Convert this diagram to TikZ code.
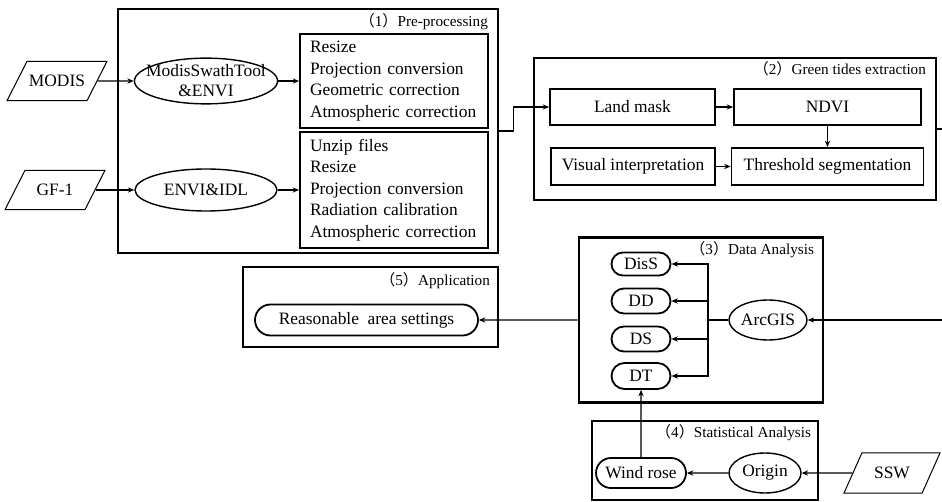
\documentclass[tikz,border=0pt]{standalone}
\usepackage{fontspec}
\setmainfont{Liberation Serif}
\newfontfamily\cjk{Noto Sans CJK SC}
\usepackage{tikz}
\usetikzlibrary{shapes}
\usetikzlibrary{positioning, arrows.meta}

\newcommand{\stagenum}[1]{{\cjk （}#1{\cjk ）}}

\tikzset{
    frame/.style={draw, rectangle, line width=1.3pt},
    title/.style={font=\fontsize{7.6}{9}\selectfont, inner sep=0pt, anchor=east},
    task/.style={draw, rectangle, line width=0.9pt},
    tool/.style={draw, ellipse, line width=0.7pt, inner sep=0pt},
    result/.style={draw, rounded rectangle, line width=0.9pt, inner sep=0pt},
    source/.style={draw, trapezium, trapezium stretches body, trapezium left angle=63, trapezium right angle=117, line width=0.5pt, inner xsep=0pt, inner ysep=6.9pt},
    link/.style={line width=0.6pt, ->}
}

\begin{document}
\begin{tikzpicture}[x=0.5pt, y=-0.5pt, >={Stealth[length=3.2pt,width=2.6pt]}, font=\fontsize{8.7}{10.8}\selectfont] % pixel grid
    \useasboundingbox (0,0) rectangle (942,502);

    % Stage frames
    \node[frame, minimum width=190pt, minimum height=122pt] (pre) at (308,131) {};
    \node[frame, minimum width=201pt, minimum height=71pt] (green) at (735,129) {};
    \node[frame, minimum width=122pt, minimum height=82.5pt] (data) at (701,320) {};
    \node[frame, minimum width=127.5pt, minimum height=40pt] (app) at (370.5,307) {};
    \node[frame, minimum width=113pt, minimum height=39.5pt] (stat) at (705,460.5) {};

    \node[title] (preTitle) at ([xshift=-5.5pt,yshift=-7pt]pre.north east) {\stagenum{1}Pre-processing};
    \node[title] (greenTitle) at ([xshift=-5.5pt,yshift=-6pt]green.north east) {\stagenum{2}Green tides extraction};
    \node[title] (dataTitle) at ([xshift=-5pt,yshift=-6.5pt]data.north east) {\stagenum{3}Data Analysis};
    \node[title] (appTitle) at ([xshift=-4.5pt,yshift=-7.5pt]app.north east) {\stagenum{5}Application};
    \node[title] (statTitle) at ([xshift=-4pt,yshift=-6.5pt]stat.north east) {\stagenum{4}Statistical Analysis};

    % (1) Pre-processing
    \node[source, minimum width=50pt] (modis) at (57,81) {MODIS};
    \node[source, minimum width=50pt] (gf) at (55,190) {GF-1};
    \node[tool, align=center, minimum width=71pt, minimum height=22pt, inner xsep=-4.6pt, inner ysep=0pt] (mst) at (206,81) {ModisSwathTool\\[-0.8pt]\&ENVI};
    \node[tool, minimum width=71pt, minimum height=21pt] (envi) at (206,190) {ENVI\&IDL};
    \node[task, align=left, text width=84pt, inner xsep=5pt, minimum height=45.5pt] (modisSteps) at (394,81)
        {Resize\\Projection conversion\\Geometric correction\\Atmospheric correction};
    \node[task, align=left, text width=84pt, inner xsep=5pt, minimum height=56pt] (gfSteps) at (394,190)
        {Unzip files\\Resize\\Projection conversion\\Radiation calibration\\Atmospheric correction};

    \draw[link] (modis) -- (mst);
    \draw[link] (mst) -- (modisSteps);
    \draw[link] (gf) -- (envi);
    \draw[link] (envi) -- (gfSteps);

    % (2) Green tides extraction
    \node[task, minimum width=82.5pt, minimum height=18pt] (land) at (632.5,107) {Land mask};
    \node[task, minimum width=93.5pt, minimum height=18pt] (ndvi) at (827.5,107) {NDVI};
    \node[task, minimum width=82pt, minimum height=18.5pt] (visual) at (633,166.5) {Visual interpretation};
    \node[task, minimum width=96pt, minimum height=18.5pt] (thresh) at (827.5,166.5) {Threshold segmentation};

    \draw[link] (pre.east) -- ++(14,0) |- (land);
    \draw[link] (land) -- (ndvi);
    \draw[link] (visual) -- (thresh);
    \draw[link] (ndvi) -- (thresh);

    \coordinate (outGreen) at (942,129);
    \draw[line width=0.6pt] (green.east) -- (outGreen);

    % (3) Data Analysis
    \node[result, minimum width=29.5pt, minimum height=11.5pt] (diss) at (641,264) {DisS};
    \node[result, minimum width=29.5pt, minimum height=12.5pt] (dd) at (641,301) {DD};
    \node[result, minimum width=29.5pt, minimum height=12.5pt] (ds) at (641,339) {DS};
    \node[result, minimum width=29.5pt, minimum height=13pt] (dt) at (641,376) {DT};
    \node[tool, minimum width=39pt, minimum height=20pt] (arcgis) at (768,320) {ArcGIS};

    \coordinate (inArc) at (942,320);
    \coordinate (bus) at (708,320);
    \draw[link] (inArc) -- (arcgis);
    \draw[line width=0.6pt] (arcgis) -- (bus);
    \draw[link] (bus) |- (diss);
    \draw[link] (bus) |- (dd);
    \draw[link] (bus) |- (ds);
    \draw[link] (bus) |- (dt);

    % (5) Application
    \node[result, minimum width=111.5pt, minimum height=15.5pt] (reason) at (366.5,320) {Reasonable\ \ area settings};
    \draw[link] (data.west) -- (reason);

    % (4) Statistical Analysis
    \node[result, minimum width=45pt, minimum height=15pt] (wind) at (641,473) {Wind rose};
    \node[tool, minimum width=36pt, minimum height=20pt] (origin) at (765,473) {Origin};
    \node[source, trapezium left angle=66, trapezium right angle=114, minimum width=48pt, inner ysep=7.1pt] (ssw) at (892,473) {SSW};

    \draw[link] (ssw) -- (origin);
    \draw[link] (origin) -- (wind);
    \draw[link] (wind) -- (dt);
\end{tikzpicture}
\end{document}
